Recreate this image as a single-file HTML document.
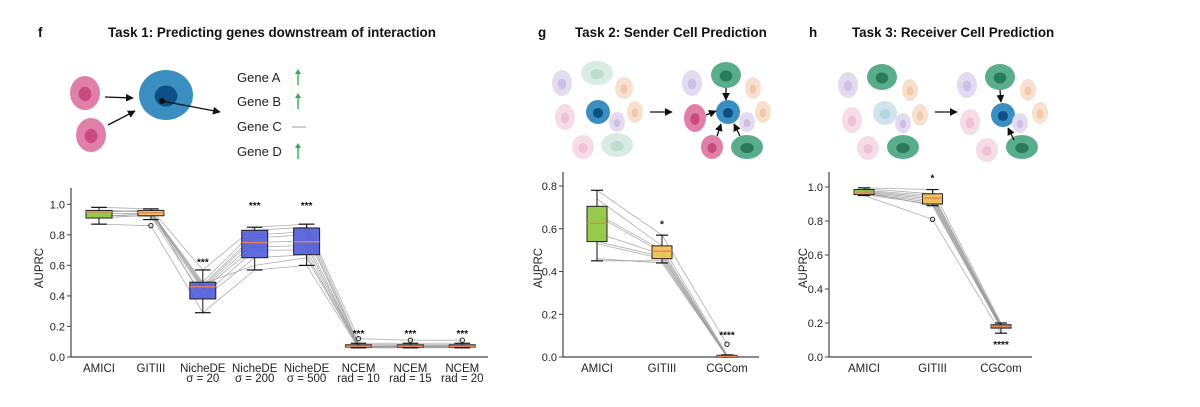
<!DOCTYPE html>
<html><head><meta charset="utf-8"><style>
body{margin:0;background:#fff;}
svg{display:block;font-family:"Liberation Sans",sans-serif;}
</style></head><body>
<svg id="fig" width="1200" height="407" viewBox="0 0 1200 407">
<g id="illus"></g>
<g id="charts"></g>
</svg>
<script>
// ---- Chart 1 data ----
const c1Categories = ["AMICI","GITIII","NicheDE|σ = 20","NicheDE|σ = 200","NicheDE|σ = 500","NCEM|rad = 10","NCEM|rad = 15","NCEM|rad = 20"];
const c1Values = [
 [.98,.96,.95,.94,.96,.91,.93,.95,.87,.92],
 [.97,.95,.96,.94,.95,.93,.92,.96,.86,.94],
 [.57,.49,.47,.46,.45,.44,.40,.38,.29,.48],
 [.85,.83,.80,.78,.75,.72,.70,.65,.57,.60],
 [.87,.85,.82,.80,.76,.73,.70,.67,.60,.65],
 [.12,.09,.08,.08,.07,.07,.07,.065,.06,.065],
 [.11,.09,.08,.075,.07,.07,.068,.065,.06,.065],
 [.11,.09,.08,.075,.07,.07,.068,.065,.06,.065]];
const c1Box = [[.87,.91,.95,.96,.98],[.90,.925,.945,.96,.97],[.29,.38,.46,.49,.57],[.57,.65,.75,.83,.85],[.60,.67,.755,.845,.87],[.06,.065,.07,.08,.09],[.06,.065,.07,.08,.09],[.06,.065,.07,.08,.09]];
const c1Outliers = [[],[.86],[],[],[],[.12],[.11],[.11]];
const c1Sig = ["","","***","***","***","***","***","***"];
const c1SigY = [0,0,.62,.99,.99,.15,.15,.15];
const c1Ticks = [0,.2,.4,.6,.8,1.0];
// ---- Chart 2 data ----
const c2Categories = ["AMICI","GITIII","CGCom"];
const c2Values = [
 [.78,.74,.67,.66,.58,.54,.53,.46,.45],
 [.57,.52,.50,.49,.48,.47,.46,.44,.45],
 [.06,.01,.005,.003,0,0,.002,.001,0]];
const c2Box = [[.45,.54,.625,.705,.78],[.44,.46,.495,.52,.57],[0,0,.003,.008,.01]];
const c2Outliers = [[],[],[.06]];
const c2Sig = ["","*","****"];
const c2SigY = [0,.62,.1];
const c2Ticks = [0,.2,.4,.6,.8];
// ---- Chart 3 data ----
const c3Categories = ["AMICI","GITIII","CGCom"];
const c3Values = [
 [.995,.99,.98,.975,.97,.965,.96,.955,.95,.97],
 [.985,.96,.95,.94,.93,.92,.91,.90,.81,.89],
 [.2,.19,.19,.185,.18,.18,.175,.17,.14,.17]];
const c3Box = [[.95,.955,.97,.985,.995],[.89,.90,.935,.96,.985],[.14,.17,.18,.19,.2]];
const c3Outliers = [[],[.81],[]];
const c3Sig = ["","*","****"];
const c3SigY = [0,1.05,.07];
const c3Ticks = [0,.2,.4,.6,.8,1.0];

const NS="http://www.w3.org/2000/svg";
function mk(parent,tag,attrs,text){const e=document.createElementNS(NS,tag);for(const k in attrs)e.setAttribute(k,attrs[k]);if(text!==undefined)e.textContent=text;parent.appendChild(e);return e;}

function chart(cfg){
 const g=mk(document.getElementById('charts'),'g',{});
 
 
 const y=v=>cfg.y0-(v/cfg.vmax)*(cfg.y0-cfg.y1);
 const x=i=>cfg.x0+i*cfg.step;
 const ya=mk(g,'line',{x1:cfg.ax,y1:cfg.ytop,x2:cfg.ax,y2:cfg.y0,stroke:'#444','stroke-width':1.2});
 
 
 const xa=mk(g,'line',{x1:cfg.ax,y1:cfg.y0,x2:cfg.axEnd,y2:cfg.y0,stroke:'#444','stroke-width':1.2});
 
 
 cfg.ticks.forEach(t=>{
  mk(g,'line',{x1:cfg.ax-4,y1:y(t),x2:cfg.ax,y2:y(t),stroke:'#444'});
  const tl=mk(g,'text',{x:cfg.ax-6,y:y(t)+4,'text-anchor':'end','font-size':11,fill:'#222'},t.toFixed(1));
  
  
 });
 const yl=mk(g,'text',{x:cfg.ylx,y:268,'text-anchor':'middle','font-size':11.5,fill:'#222',transform:`rotate(-90 ${cfg.ylx} 268)`},'AUPRC');
 
 
 const n=cfg.values[0].length;
 for(let d=0;d<n;d++){
  const pts=cfg.values.map((arr,i)=>x(i)+','+y(arr[d])).join(' ');
  const pl=mk(g,'polyline',{points:pts,fill:'none',stroke:'#999','stroke-width':0.8,opacity:0.8});
  
  
 }
 cfg.box.forEach((b,i)=>{
  const cx=x(i),w=cfg.bw;
  const bg=mk(g,'g',{});
  
  
  mk(bg,'line',{x1:cx,y1:y(b[0]),x2:cx,y2:y(b[1]),stroke:'#111'});
  mk(bg,'line',{x1:cx,y1:y(b[3]),x2:cx,y2:y(b[4]),stroke:'#111'});
  mk(bg,'line',{x1:cx-w*0.3,y1:y(b[0]),x2:cx+w*0.3,y2:y(b[0]),stroke:'#111','stroke-width':1.2});
  mk(bg,'line',{x1:cx-w*0.3,y1:y(b[4]),x2:cx+w*0.3,y2:y(b[4]),stroke:'#111','stroke-width':1.2});
  mk(bg,'rect',{x:cx-w/2,y:y(b[3]),width:w,height:Math.max(1.5,y(b[1])-y(b[3])),fill:cfg.colors[i],stroke:'#222','stroke-width':1,'fill-opacity':0.9});
  mk(bg,'line',{x1:cx-w/2,y1:y(b[2]),x2:cx+w/2,y2:y(b[2]),stroke:'#e8825a','stroke-width':1.3});
  cfg.outliers[i].forEach(o=>mk(bg,'circle',{cx:cx,cy:y(o),r:2.2,fill:'none',stroke:'#222','stroke-width':1}));
  if(cfg.sig[i]){const s=mk(g,'text',{x:cx,y:y(cfg.sigY[i])+3,'text-anchor':'middle','font-size':10,'font-weight':'bold',fill:'#111'},cfg.sig[i]);
   
   }
  const parts=cfg.cats[i].split('|');
  parts.forEach((p,k)=>{const t=mk(g,'text',{x:cx,y:cfg.y0+15+k*10,'text-anchor':'middle','font-size':11.5,fill:'#222'},p);
   
   });
 });
}
chart({name:'chart-task1',y0:357,y1:204.3,vmax:1,ytop:188,ax:71,axEnd:488,x0:99,step:51.9,bw:26,ylx:43,cats:c1Categories,values:c1Values,box:c1Box,outliers:c1Outliers,sig:c1Sig,sigY:c1SigY,ticks:c1Ticks,
 colors:['#8cc43c','#f2c14e','#4f5bd8','#4f5bd8','#4f5bd8','#d8844a','#d8844a','#d8844a']});
chart({name:'chart-task2',y0:357,y1:186,vmax:.8,ytop:172,ax:563,axEnd:759,x0:597,step:65,bw:20,ylx:542,cats:c2Categories,values:c2Values,box:c2Box,outliers:c2Outliers,sig:c2Sig,sigY:c2SigY,ticks:c2Ticks,
 colors:['#8cc43c','#f2c14e','#c0506a']});
chart({name:'chart-task3',y0:357,y1:187,vmax:1,ytop:172,ax:829,axEnd:1032,x0:864,step:68.5,bw:20,ylx:807,cats:c3Categories,values:c3Values,box:c3Box,outliers:c3Outliers,sig:c3Sig,sigY:c3SigY,ticks:c3Ticks,
 colors:['#8cc43c','#f2c14e','#8a70c8']});

const il=document.getElementById('illus');
mk(il,'defs',{}).innerHTML='<marker id="ah" viewBox="0 0 10 10" refX="9" refY="5" markerWidth="6" markerHeight="6" orient="auto"><path d="M0,0L10,5L0,10z" fill="#111"/></marker>';
function title(x,yy,txt,name){const t=mk(il,'text',{x:x,y:yy,'font-size':13.4,'font-weight':'bold',fill:'#111'},txt);}
title(38,37,'f','panel-label-f');title(108,37,'Task 1: Predicting genes downstream of interaction','title-task1');
title(538,37,'g','panel-label-g');title(575,37,'Task 2: Sender Cell Prediction','title-task2');
title(809,37,'h','panel-label-h');title(852,37,'Task 3: Receiver Cell Prediction','title-task3');
const C={pink:['#e07fa8','#c84a7e'],blue:['#3a8fc0','#0e4f86'],green:['#5aad8a','#2a7a5c'],lav:['#e3dcf0','#cdbfe6'],peach:['#f7e0d0','#f0c8aa'],lpink:['#f6dce6','#efc2d4'],mint:['#d8ece4','#bedcd0'],lblue:['#cfe4ec','#b4d4e0']};
function cell(cx,cy,rx,ry,c,name){const g=mk(il,'g',{});
 mk(g,'ellipse',{cx:cx,cy:cy,rx:rx,ry:ry,fill:C[c][0]});mk(g,'ellipse',{cx:cx,cy:cy+1,rx:rx*0.42,ry:ry*0.42,fill:C[c][1]});}
function arrow(x1,y1,x2,y2){const a=mk(il,'line',{x1:x1,y1:y1,x2:x2,y2:y2,stroke:'#111','stroke-width':1.3,'marker-end':'url(#ah)'});}
cell(85,93,15,17,'pink','sender-cell');cell(91,135,15,17,'pink','sender-cell');
cell(166,95,27,25,'blue','receiver-cell');mk(il,'circle',{cx:162,cy:101,r:3,fill:'#111'});
arrow(105,97,133,98);arrow(108,125,135,111);arrow(162,101,220,112);
[['Gene A',77,'up'],['Gene B',101,'up'],['Gene C',126,'none'],['Gene D',151,'up']].forEach(([t,yy,s])=>{
 const e=mk(il,'text',{x:237,y:yy+5,'font-size':13,fill:'#222'},t);
 if(s==='up'){mk(il,'line',{x1:298,y1:yy+8,x2:298,y2:yy-6,stroke:'#2bb24c','stroke-width':1.4});mk(il,'path',{d:`M295,${yy-3}L298,${yy-8}L301,${yy-3}z`,fill:'#2bb24c'});}
 else mk(il,'line',{x1:292,y1:yy+1,x2:306,y2:yy+1,stroke:'#bbb','stroke-width':1.5});
});
cell(562,83,10,13,'lav','bg-cell');cell(597,73,16,12,'mint','bg-cell');cell(624,88,9,11,'peach','bg-cell');
cell(565,117,10,13,'lpink','bg-cell');cell(598,112,12,12,'blue','receiver-cell');cell(617,122,8,10,'lav','bg-cell');
cell(635,112,8,11,'peach','bg-cell');cell(583,147,11,12,'lpink','bg-cell');cell(617,145,16,12,'mint','bg-cell');
arrow(650,112,672,112);
cell(692,83,10,13,'lav','bg-cell');cell(726,75,15,13,'green','sender-cell');cell(753,88,8,11,'peach','bg-cell');
cell(695,118,11,14,'pink','sender-cell');cell(728,112,12,12,'blue','receiver-cell');cell(747,122,8,10,'lav','bg-cell');
cell(763,112,8,11,'peach','bg-cell');cell(712,147,11,12,'pink','sender-cell');cell(747,147,16,12,'green','sender-cell');
arrow(726,88,726,100);arrow(706,115,716,111);arrow(717,136,721,124);arrow(740,136,734,124);
cell(848,85,10,13,'lav','bg-cell');cell(882,77,15,13,'green','bg-cell');cell(910,90,8,11,'peach','bg-cell');
cell(852,120,10,13,'lpink','bg-cell');cell(885,113,12,12,'lblue','bg-cell');cell(903,123,8,10,'lav','bg-cell');
cell(920,115,8,11,'peach','bg-cell');cell(868,148,11,12,'lpink','bg-cell');cell(903,147,16,12,'green','bg-cell');
arrow(935,112,957,112);
cell(967,85,10,13,'lav','bg-cell');cell(1000,77,15,13,'green','sender-cell');cell(1028,90,8,11,'peach','bg-cell');
cell(970,122,10,13,'lpink','bg-cell');cell(1003,115,12,12,'blue','receiver-cell');cell(1020,123,8,10,'lav','bg-cell');
cell(1040,113,8,11,'peach','bg-cell');cell(987,150,11,12,'lpink','bg-cell');cell(1022,147,16,12,'green','sender-cell');
arrow(1000,90,1001,102);arrow(1014,140,1008,128);
</script>
</body></html>
